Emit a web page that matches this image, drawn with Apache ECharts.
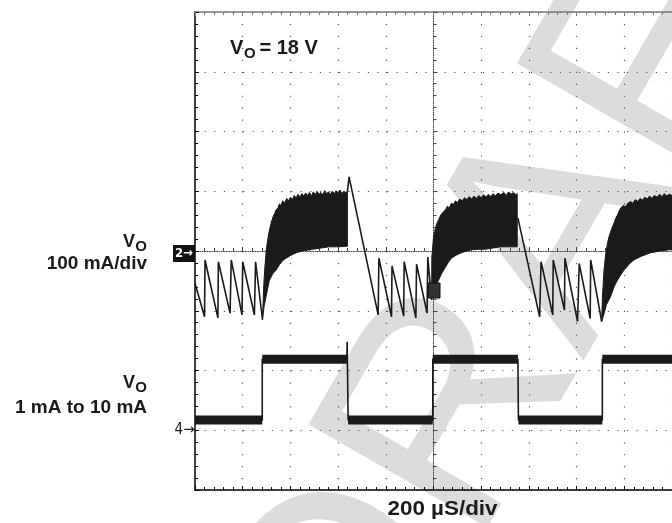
<!DOCTYPE html>
<html><head><meta charset="utf-8">
<script src="https://cdn.jsdelivr.net/npm/echarts@6.0.0/dist/echarts.min.js"></script>
<style>html,body{margin:0;padding:0;background:#fff}#c{width:672px;height:523px}</style>
</head><body><div id="c"></div>
<script>
// Time in µs (200 µs/div, 0 = screen centre)
const timeMin = -1000, timeMax = 1000, timeStep = 200;
// Vertical screen divisions
const divMin = -4, divMax = 4;
// Channel 2: output current ripple, mA relative to marker "2" (100 mA/div)
const ch2Scale = 100;
const ch2Seg1 = [[-1000,-54],[-960,-110],[-958,-15],[-904,-112],[-902,-18],[-853,-104],[-848,-15],[-803,-107],[-800,-18],[-751,-107],[-746,-18],[-717,-115]];
const burst1Upper = [[-717,-115],[-712,-60],[-708,-32],[-701,2],[-694,22],[-688,35],[-680,48],[-672,58],[-666,63],[-660,69],[-652,72],[-646,79],[-640,76],[-632,84],[-624,80],[-616,88],[-608,84],[-600,90],[-592,86],[-584,93],[-576,89],[-568,95],[-560,90],[-552,96],[-544,92],[-536,97],[-528,93],[-520,98],[-512,92],[-504,99],[-496,94],[-488,100],[-480,95],[-472,98],[-464,94],[-456,101],[-448,96],[-440,99],[-432,95],[-424,100],[-416,96],[-408,101],[-400,97],[-392,102],[-384,96],[-376,100],[-368,98],[-361,99]];
const burst1Lower = [[-717,-115],[-710,-92],[-701,-74],[-688,-49],[-674,-38],[-660,-32],[-646,-23],[-632,-16],[-618,-12],[-597,-7],[-576,-3],[-550,0],[-507,3],[-470,5],[-438,7],[-400,7],[-361,8]];
const ch2Seg2 = [[-361,99],[-354,124],[-232,-107],[-229,-12],[-176,-110],[-174,-25],[-125,-109],[-123,-18],[-74,-112],[-71,-22],[-27,-104],[-24,-10],[-8,-82]];
const burst2Upper = [[-8,-82],[-7,-10],[0,23],[8,38],[14,46],[21,52],[30,60],[38,64],[50,69],[58,75],[66,72],[75,80],[84,78],[92,84],[100,81],[110,87],[120,84],[130,89],[140,86],[150,91],[160,87],[170,92],[180,88],[190,93],[200,89],[210,94],[220,90],[230,95],[240,91],[250,96],[260,92],[270,97],[283,94],[295,98],[305,93],[315,99],[325,95],[335,98],[345,94],[351,96]];
const burst2Lower = [[-8,-82],[0,-70],[10,-58],[21,-49],[35,-37],[50,-27],[62,-19],[75,-12],[95,-7],[117,-3],[140,0],[158,2],[190,3],[217,3],[250,5],[283,7],[320,7],[351,7]];
const ch2Seg3 = [[354,55],[445,-110],[451,-18],[500,-107],[502,-15],[549,-99],[551,-12],[604,-118],[611,-21],[657,-113],[659,-15],[705,-118]];
const burst3Upper = [[705,-118],[708,-80],[715,-32],[722,-5],[729,12],[736,24],[746,36],[757,47],[764,55],[771,60],[778,67],[785,72],[795,76],[805,74],[815,80],[826,83],[836,80],[846,86],[856,83],[866,88],[876,85],[886,90],[896,87],[906,92],[916,88],[926,93],[938,90],[948,95],[958,91],[968,96],[978,92],[988,95],[1000,93]];
const burst3Lower = [[705,-118],[715,-105],[725,-90],[743,-76],[757,-60],[771,-49],[785,-40],[799,-32],[820,-22],[840,-15],[870,-9],[910,-3],[950,0],[988,2],[1000,2]];
// Channel 4: load step, divisions above marker "4"
const ch4Marker = -3;
const ch4Trace = [[-1000,0.17],[-718,0.17],[-718,1.19],[-363,1.19],[-362,1.48],[-358,0.17],[-3,0.17],[-3,1.19],[354,1.19],[356,0.17],[708,0.17],[708,1.19],[1000,1.19]];

const FONT = '"Liberation Sans", Arial, Helvetica, sans-serif';
const ink = '#1a1a1a';
const toDiv2 = p => [p[0], p[1] / ch2Scale];
const toDiv4 = p => [p[0], ch4Marker + p[1]];
const bursts = [[burst1Upper, burst1Lower],[burst2Upper, burst2Lower],[burst3Upper, burst3Lower]];

const band = [];
for (let i = 0; i < ch4Trace.length - 1; i++) {
  if (ch4Trace[i][1] === ch4Trace[i+1][1] && ch4Trace[i][0] !== ch4Trace[i+1][0]) band.push([ch4Trace[i], ch4Trace[i+1]]);
}

const dotCol = '#555';
function frameX(pos, col) {
  return {gridIndex:1, type:'value', position:pos, min:timeMin, max:timeMax, interval:timeStep,
    axisLine:{onZero:false, lineStyle:{color:col, width:1.5}},
    axisTick:{show:true, inside:true, length:4, lineStyle:{color:col}},
    minorTick:{show:true, splitNumber:5, length:3, lineStyle:{color:col}},
    axisLabel:{show:false}, splitLine:{show:false}};
}

const chart = echarts.init(document.getElementById('c'), null, {renderer:'canvas'});
const series = [];
series.push({type:'custom', xAxisIndex:0, yAxisIndex:0, clip:true, z:3,
  data: bursts.map((b,i)=>[i,0]),
  renderItem: (params, api) => {
    const b = bursts[params.dataIndex];
    const pts = b[0].map(p => api.coord(toDiv2(p))).concat(b[1].slice().reverse().map(p => api.coord(toDiv2(p))));
    return {type:'polygon', shape:{points:pts}, style:{fill:ink, stroke:ink, lineWidth:1}};
  }});
[ch2Seg1, ch2Seg2, ch2Seg3].forEach(s => series.push({type:'line', xAxisIndex:0, yAxisIndex:0, showSymbol:false, z:4,
  data:s.map(toDiv2), lineStyle:{color:ink, width:1.6}}));
series.push({type:'line', xAxisIndex:0, yAxisIndex:0, showSymbol:false, z:4, data:ch4Trace.map(toDiv4), lineStyle:{color:ink, width:1.6}});
band.forEach(seg => series.push({type:'line', xAxisIndex:0, yAxisIndex:0, showSymbol:false, z:4, data:seg.map(toDiv4), lineStyle:{color:ink, width:9, cap:'butt'}}));

chart.setOption({
  animation:false,
  grid:[{left:195, top:12, width:480, height:478, show:false},{left:195, top:12, width:480, height:478, show:false}],
  xAxis:[
    {gridIndex:0, type:'value', min:timeMin, max:timeMax, interval:timeStep,
      axisLine:{onZero:true, lineStyle:{color:'#444', width:1, type:[1,1.4]}},
      axisTick:{show:true, inside:true, length:4, lineStyle:{color:'#444'}},
      minorTick:{show:true, splitNumber:5, length:3, lineStyle:{color:'#444'}},
      axisLabel:{show:false},
      splitLine:{show:true, lineStyle:{color:dotCol, width:1.2, type:[1.2,10.75]}}},
    frameX('bottom', '#000'),
    frameX('top', '#777')
  ],
  yAxis:[
    {gridIndex:0, type:'value', min:divMin, max:divMax, interval:1,
      axisLine:{onZero:true, lineStyle:{color:'#444', width:1, type:[1,1.4]}},
      axisTick:{show:true, inside:true, length:4, lineStyle:{color:'#444'}},
      minorTick:{show:true, splitNumber:5, length:3, lineStyle:{color:'#444'}},
      axisLabel:{show:false},
      splitLine:{show:true, lineStyle:{color:dotCol, width:1.2, type:[1.2,8.4]}}},
    {gridIndex:1, type:'value', position:'left', min:divMin, max:divMax, interval:1,
      axisLine:{onZero:false, lineStyle:{color:'#000', width:1.5}},
      axisTick:{show:true, inside:true, length:4, lineStyle:{color:'#000'}},
      minorTick:{show:true, splitNumber:5, length:3, lineStyle:{color:'#000'}},
      axisLabel:{show:false}, splitLine:{show:false}}
  ],
  series: series,
  graphic:{elements:[
    {type:'text', x:545, y:262, rotation:60*Math.PI/180, z:-5, silent:true,
      style:{text:'DRAFT', font:'300px '+FONT, fill:'#dcdcdc', textAlign:'center', textVerticalAlign:'middle'}},
    {type:'text', x:230, y:48, z:10, style:{text:'V', font:'bold 20px '+FONT, fill:ink, textAlign:'left', textVerticalAlign:'middle'}},
    {type:'text', x:244, y:53.5, z:10, style:{text:'O', font:'bold 15px '+FONT, fill:ink, textAlign:'left', textVerticalAlign:'middle'}},
    {type:'text', x:259.5, y:48, z:10, style:{text:'= 18 V', font:'bold 20px '+FONT, fill:ink, textAlign:'left', textVerticalAlign:'middle'}},
    {type:'text', x:135, y:242, z:10, style:{text:'V', font:'bold 18px '+FONT, fill:ink, textAlign:'right', textVerticalAlign:'middle'}},
    {type:'text', x:147, y:247, z:10, style:{text:'O', font:'bold 15px '+FONT, fill:ink, textAlign:'right', textVerticalAlign:'middle'}},
    {type:'text', x:147, y:264, z:10, style:{text:'100 mA/div', font:'bold 19px '+FONT, fill:ink, textAlign:'right', textVerticalAlign:'middle'}},
    {type:'text', x:135, y:383, z:10, style:{text:'V', font:'bold 18px '+FONT, fill:ink, textAlign:'right', textVerticalAlign:'middle'}},
    {type:'text', x:147, y:388, z:10, style:{text:'O', font:'bold 15px '+FONT, fill:ink, textAlign:'right', textVerticalAlign:'middle'}},
    {type:'text', x:147, y:408, z:10, style:{text:'1 mA to 10 mA', font:'bold 19px '+FONT, fill:ink, textAlign:'right', textVerticalAlign:'middle'}},
    {type:'text', x:442.5, y:509, z:10, scaleX:1.12, style:{text:'200 \u00B5S/div', font:'bold 20px '+FONT, fill:ink, textAlign:'center', textVerticalAlign:'middle'}},
    {type:'rect', shape:{x:173, y:245, width:22, height:17}, z:10, style:{fill:'#111'}},
    {type:'text', x:184, y:253.5, z:11, style:{text:'2\u2192', font:'bold 13px "DejaVu Sans Condensed", "DejaVu Sans", sans-serif', fill:'#fff', textAlign:'center', textVerticalAlign:'middle'}},
    {type:'text', x:184.5, y:430.5, z:10, style:{text:'4\u2192', font:'15px "DejaVu Sans Condensed", "DejaVu Sans", sans-serif', fill:ink, textAlign:'center', textVerticalAlign:'middle'}},
    {type:'rect', shape:{x:428, y:283, width:12, height:15}, z:10, style:{fill:'#333', stroke:'#111', lineWidth:1}}
  ]}
});
</script></body></html>
